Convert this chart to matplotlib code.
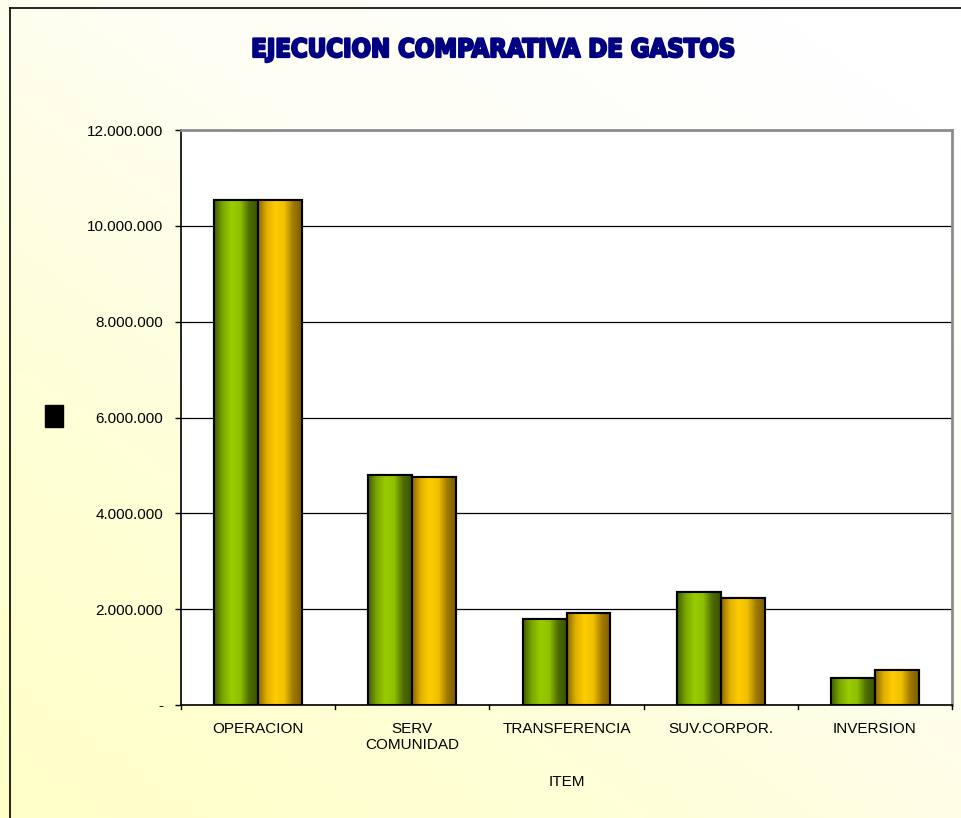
import numpy as np
import matplotlib
matplotlib.use("Agg")
import matplotlib.pyplot as plt
from matplotlib.colors import LinearSegmentedColormap
from matplotlib.ticker import FuncFormatter
import matplotlib.patheffects as pe

categories = ["OPERACION", "SERV\nCOMUNIDAD", "TRANSFERENCIA", "SUV.CORPOR.", "INVERSION"]
serie_1 = [10540000, 4800000, 1790000, 2360000, 570000]
serie_2 = [10540000, 4750000, 1910000, 2240000, 730000]
yticks = [0, 2000000, 4000000, 6000000, 8000000, 10000000, 12000000]
title = "EJECUCION COMPARATIVA DE GASTOS"
xlabel = "ITEM"

W, H = 961, 818
fig = plt.figure(figsize=(W / 100, H / 100), dpi=100)

# background gradient
bg = fig.add_axes([0, 0, 1, 1], zorder=-10)
yy, xx = np.mgrid[0:1:200j, 0:1:200j]
t = np.clip(1 - (0.5 * xx + 0.6 * (1 - yy)), 0, 1)  # 1 at bottom-left
bgcmap = LinearSegmentedColormap.from_list("bg", ["#ffffff", "#fefef4", "#ffffd8", "#ffffc8"])
bg.imshow(t, cmap=bgcmap, extent=[0, 1, 0, 1], aspect="auto", origin="upper", vmin=0, vmax=1)
bg.set_xlim(0, 1); bg.set_ylim(0, 1)
bg.axis("off")
# chart frame lines (left and top)
bg.plot([10 / W, 10 / W], [0, 1 - 8 / H], color="black", lw=1.2)
bg.plot([10 / W, 1], [1 - 8 / H, 1 - 8 / H], color="black", lw=1.2)
# black square
bg.add_patch(plt.Rectangle((45 / W, 1 - 427 / H), 18 / W, 22 / H, color="black"))

ax = fig.add_axes([181 / W, 1 - 705 / H, (952 - 181) / W, (705 - 130) / H])
ax.set_facecolor("white")

x = np.arange(len(categories))
bw = 0.285

green_cmap = LinearSegmentedColormap.from_list("g", ["#3f5a00", "#7aa800", "#99cc00", "#8fc000", "#4f6d00", "#3a5200"])
gold_cmap = LinearSegmentedColormap.from_list("y", ["#8a6400", "#e0b000", "#ffcc00", "#f0c000", "#a07a00", "#7a5c00"])

bars1 = ax.bar(x - bw / 2, serie_1, width=bw, color="#99cc00", edgecolor="black", linewidth=1.5, zorder=3)
bars2 = ax.bar(x + bw / 2, serie_2, width=bw, color="#ffcc00", edgecolor="black", linewidth=1.5, zorder=3)

grad = np.linspace(0, 1, 256).reshape(1, -1)
for bars, cmap in ((bars1, green_cmap), (bars2, gold_cmap)):
    for b in bars:
        x0, y0 = b.get_x(), b.get_y()
        w, h = b.get_width(), b.get_height()
        im = ax.imshow(grad, cmap=cmap, extent=[x0, x0 + w, y0, y0 + h], aspect="auto", zorder=3.5)
        im.set_clip_path(b)
        ax.add_patch(plt.Rectangle((x0, y0), w, h, fill=False, edgecolor="black", linewidth=1.5, zorder=4))

ax.set_xlim(-0.5, len(categories) - 0.5)
ax.set_ylim(0, 12000000)
ax.set_yticks(yticks)
ax.yaxis.set_major_formatter(FuncFormatter(lambda v, p: "-" if v == 0 else f"{int(v):,}".replace(",", ".")))
ax.set_xticks(x)
ax.set_xticklabels(categories, fontsize=11, family="Liberation Sans", linespacing=1.25)
for lbl in ax.get_yticklabels():
    lbl.set_fontfamily("Liberation Sans")
    lbl.set_fontsize(11)
ax.tick_params(axis="y", length=4, width=1, pad=9, direction="out")
ax.tick_params(axis="x", length=0, pad=12)
ax.yaxis.grid(True, color="black", linewidth=0.9, zorder=0)
ax.set_axisbelow(True)
# category separator ticks on x axis
for k in range(len(categories) + 1):
    ax.plot([k - 0.5, k - 0.5], [0, -80000], color="black", lw=1, clip_on=False, zorder=5)

ax.spines["left"].set_color("black")
ax.spines["left"].set_linewidth(1.2)
ax.spines["bottom"].set_color("black")
ax.spines["bottom"].set_linewidth(1.2)
ax.spines["top"].set_color("#8c8c8c")
ax.spines["top"].set_linewidth(2)
ax.spines["right"].set_color("#8c8c8c")
ax.spines["right"].set_linewidth(2)

ax.set_xlabel(xlabel, fontsize=11, family="Liberation Sans", labelpad=16)

fig.text(493 / W, 1 - 50 / H, title, ha="center", va="center", fontsize=18.3,
         fontweight="bold", fontstretch="condensed", color="#000080", family="DejaVu Sans",
         path_effects=[pe.withStroke(linewidth=1.6, foreground="#000080")])

fig.savefig("out.png", dpi=100)
